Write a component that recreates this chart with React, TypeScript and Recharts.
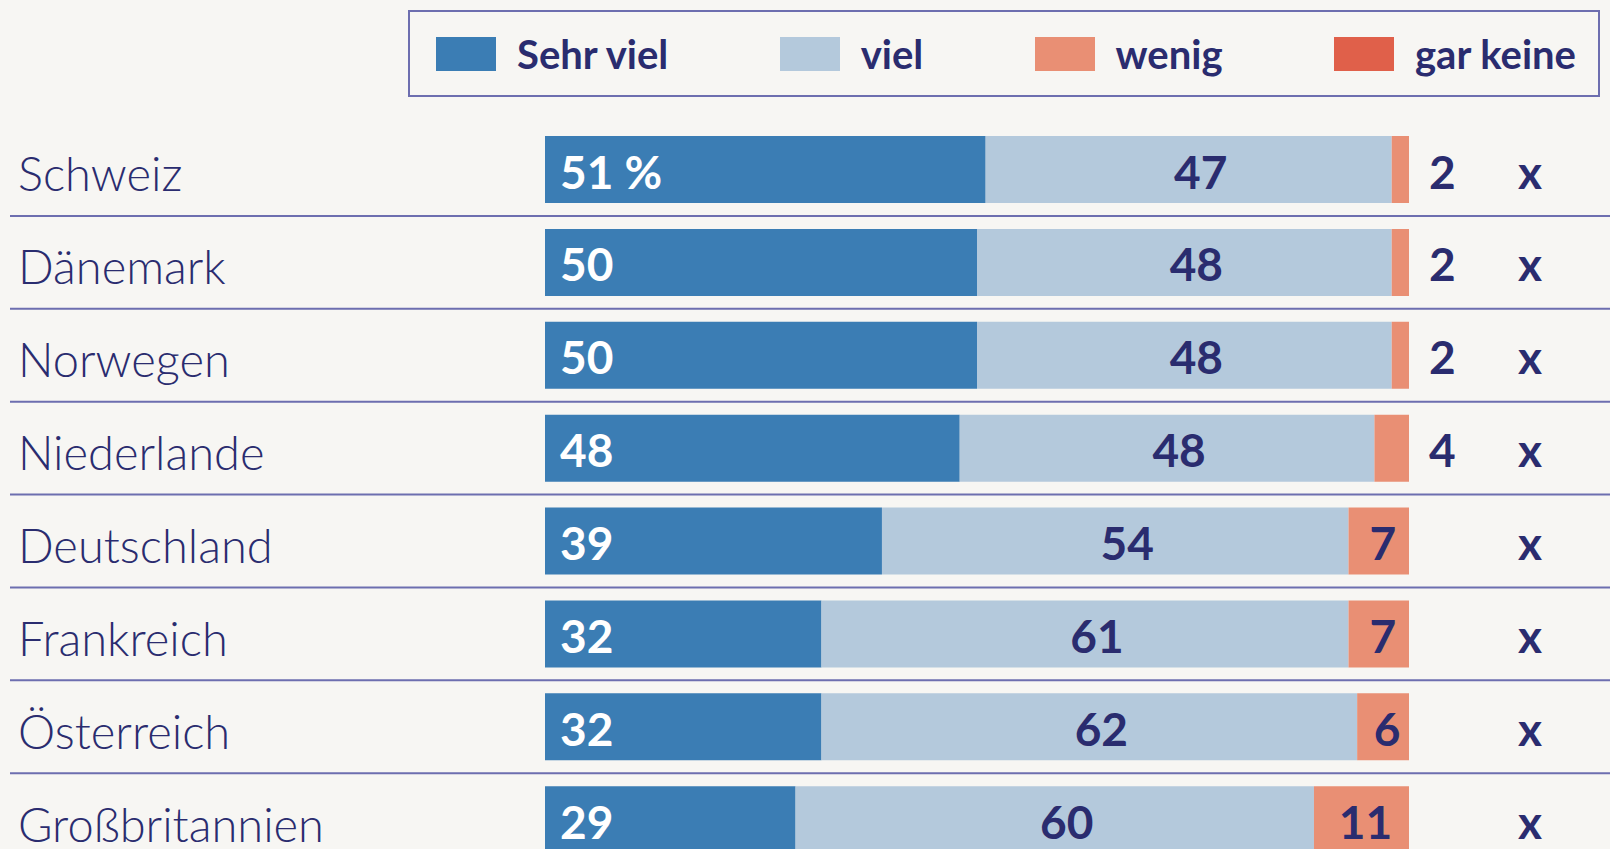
import { Bar, BarChart, LabelList, Legend, XAxis, YAxis } from "recharts";

const countries = [
  "Schweiz",
  "Dänemark",
  "Norwegen",
  "Niederlande",
  "Deutschland",
  "Frankreich",
  "Österreich",
  "Großbritannien",
];
const sehrViel = [51, 50, 50, 48, 39, 32, 32, 29];
const viel = [47, 48, 48, 48, 54, 61, 62, 60];
const wenig = [2, 2, 2, 4, 7, 7, 6, 11];
const garKeine = [0, 0, 0, 0, 0, 0, 0, 0];
const garKeineLabel = "x";
const seriesNames = ["Sehr viel", "viel", "wenig", "gar keine"];

const W = 1610;
const H = 880;
const TOP = 123;
const BOTTOM = 14;
const PITCH = (H - TOP - BOTTOM) / countries.length;

const NAVY = "#2a2c6f";
const LINE = "#6d6eaf";
const BG = "#f7f6f3";
const NUM_FONT = "Lato, 'DejaVu Sans', sans-serif";

const data = countries.map((country, i) => ({
  country,
  sehrViel: sehrViel[i],
  viel: viel[i],
  wenig: wenig[i],
  garKeine: garKeine[i],
}));

function CountryTick(props: any) {
  const { y, payload, index } = props;
  return (
    <g>
      <text
        x={18}
        y={y + 22}
        fill={NAVY}
        fontFamily="Lato, sans-serif"
        fontWeight={300}
        fontSize={47}
      >
        {payload.value}
      </text>
      {index < countries.length - 1 && (
        <line x1={10} x2={W} y1={y + PITCH / 2} y2={y + PITCH / 2} stroke={LINE} strokeWidth={2} />
      )}
    </g>
  );
}

function numText(x: number, y: number, value: string, fill: string, anchor: string) {
  return (
    <text
      x={x}
      y={y}
      fill={fill}
      textAnchor={anchor as any}
      fontFamily={NUM_FONT}
      fontWeight={700}
      fontSize={46}
    >
      {value}
    </text>
  );
}

const DY = 19;

const sehrVielLabel = (p: any) => {
  const text = p.index === 0 ? `${p.value} %` : String(p.value);
  return numText(p.x + 15, p.y + p.height / 2 + DY, text, "#ffffff", "start");
};

const vielLabel = (p: any) =>
  numText(p.x + p.width / 2 + 12, p.y + p.height / 2 + DY, String(p.value), NAVY, "middle");

const wenigLabel = (p: any) => {
  if (p.value >= 5) {
    return numText(p.x + p.width / 2 + 4, p.y + p.height / 2 + DY, String(p.value), NAVY, "middle");
  }
  return numText(p.x + p.width + 20, p.y + p.height / 2 + DY, String(p.value), NAVY, "start");
};

const keineLabel = (p: any) =>
  numText(p.x + p.width + 121, p.y + p.height / 2 + DY, garKeineLabel, NAVY, "middle");

function LegendBox(props: any) {
  const items = [...(props.payload || [])].sort(
    (a: any, b: any) => seriesNames.indexOf(a.value) - seriesNames.indexOf(b.value)
  );
  return (
    <div
      style={{
        boxSizing: "border-box",
        width: "100%",
        height: "100%",
        border: `2px solid ${LINE}`,
        display: "flex",
        alignItems: "center",
        justifyContent: "space-between",
        padding: "0 22px 0 26px",
      }}
    >
      {items.map((item: any) => (
        <div key={item.value} style={{ display: "flex", alignItems: "center" }}>
          <span style={{ width: 60, height: 34, background: item.color, marginRight: 21 }} />
          <span
            style={{
              color: NAVY,
              fontFamily: NUM_FONT,
              fontWeight: 700,
              fontSize: 40,
              lineHeight: "34px",
            }}
          >
            {item.value}
          </span>
        </div>
      ))}
    </div>
  );
}

export default function App() {
  return (
    <div
      style={{
        position: "absolute",
        left: 0,
        top: 0,
        width: W,
        height: 849,
        overflow: "hidden",
        background: BG,
      }}
    >
      <BarChart
        width={W}
        height={H}
        data={data}
        layout="vertical"
        margin={{ top: TOP, right: 201, bottom: BOTTOM, left: 0 }}
        barSize={67}
      >
        <XAxis type="number" domain={[0, 100]} hide />
        <YAxis
          type="category"
          dataKey="country"
          width={545}
          axisLine={false}
          tickLine={false}
          interval={0}
          tick={<CountryTick />}
        />
        <Legend
          layout="horizontal"
          verticalAlign="middle"
          align="center"
          content={<LegendBox />}
          wrapperStyle={{ left: 408, top: 10, width: 1192, height: 87 }}
        />
        <Bar dataKey="sehrViel" name="Sehr viel" stackId="a" fill="#3b7db4" isAnimationActive={false}>
          <LabelList dataKey="sehrViel" content={sehrVielLabel} />
        </Bar>
        <Bar dataKey="viel" name="viel" stackId="a" fill="#b4c9dc" isAnimationActive={false}>
          <LabelList dataKey="viel" content={vielLabel} />
        </Bar>
        <Bar dataKey="wenig" name="wenig" stackId="a" fill="#e98f74" isAnimationActive={false}>
          <LabelList dataKey="wenig" content={wenigLabel} />
          <LabelList dataKey="garKeine" content={keineLabel} />
        </Bar>
        <Bar dataKey="garKeine" name="gar keine" stackId="a" fill="#e0604a" isAnimationActive={false} />
      </BarChart>
    </div>
  );
}
